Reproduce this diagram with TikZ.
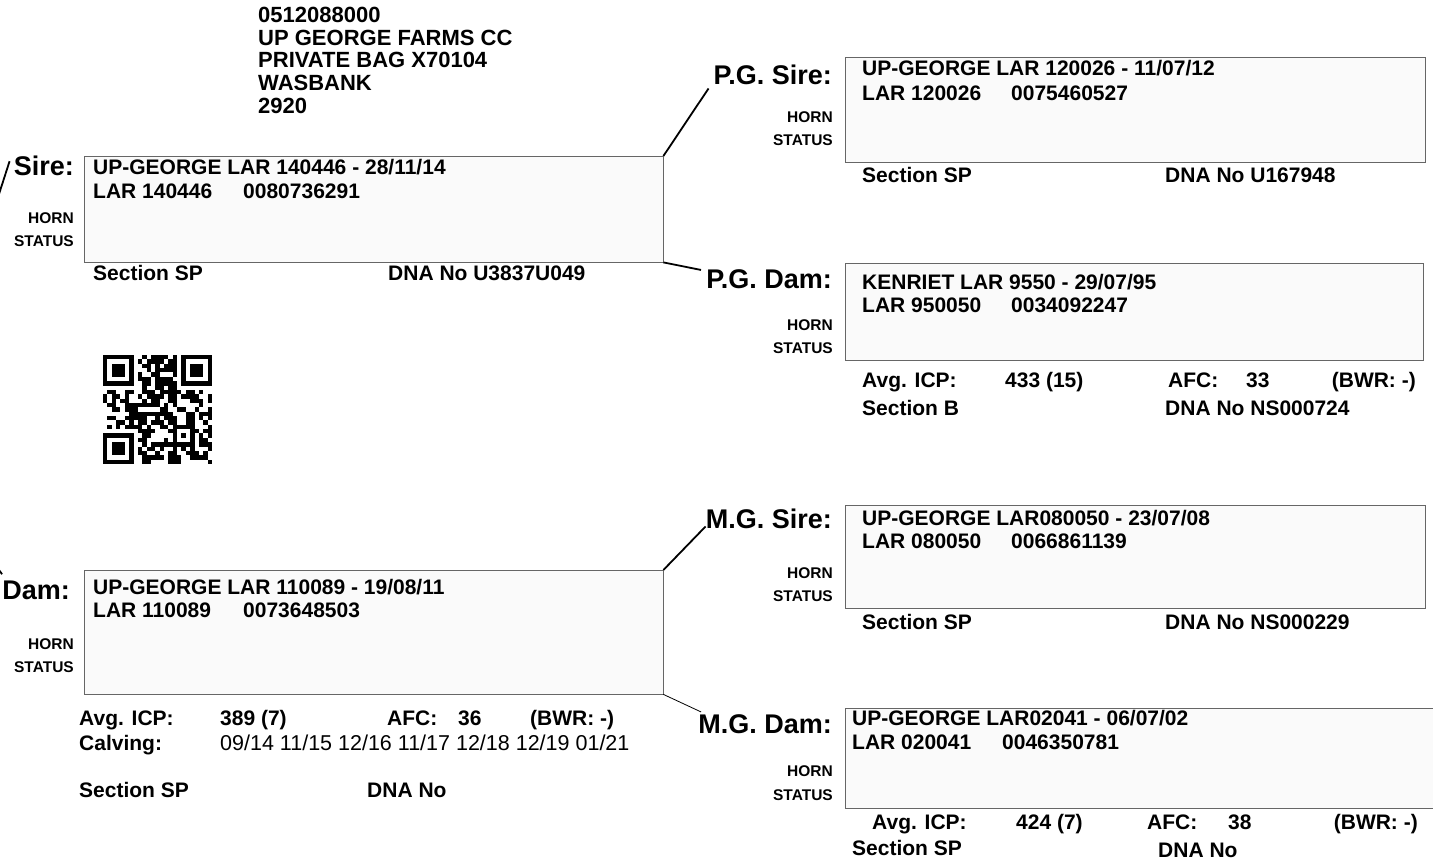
\documentclass[tikz,border=0pt]{standalone}
\usepackage{fontspec}
\setmainfont{Liberation Sans}
\usetikzlibrary{calc,positioning}

\begin{document}
\begin{tikzpicture}[x=1pt,y=-1pt,
card/.style={draw=black!60,fill=black!2,anchor=north west,inner sep=0pt},
tag/.style={font=\fontsize{27}{30}\selectfont\bfseries,anchor=base east,inner sep=0pt},
horn/.style={font=\fontsize{15.5}{18}\selectfont\bfseries,anchor=base east,inner sep=0pt},
info/.style={font=\fontsize{21}{24}\selectfont\bfseries,anchor=base west,inner sep=0pt},
addr/.style={font=\fontsize{22}{24}\selectfont\bfseries,anchor=base west,inner sep=0pt},
link/.style={draw=black,line width=1.8pt}]
\useasboundingbox (0,0) rectangle (1433,862);
\clip (0,0) rectangle (1433,862);

% address
\node [addr] (addr1) at (258,22) {0512088000};
\node [addr] (addr2) at (258,45) {UP GEORGE FARMS CC};
\node [addr] (addr3) at (258,67) {PRIVATE BAG X70104};
\node [addr] (addr4) at (258,90) {WASBANK};
\node [addr] (addr5) at (258,113) {2920};

% sire
\node [card,minimum width=579,minimum height=106] (sire) at (84,156) {};
\node [tag] (sirelbl) at (74,175) {Sire:};
\node [horn] (sirehorn) at (74,223) {HORN};
\node [horn] (sirestatus) at (74,246) {STATUS};
\node [info] (sirename) at (93,174) {UP-GEORGE LAR 140446 - 28/11/14};
\node [info] (sirereg) at (93,198) {LAR 140446};
\node [info] (sireid) at (243,198) {0080736291};
\node [info] (siresec) at (93,280) {Section SP};
\node [info] (siredna) at (388,280) {DNA No U3837U049};

% dam
\node [card,minimum width=579,minimum height=124] (dam) at (84,570) {};
\node [tag] (damlbl) at (70,599) {Dam:};
\node [horn] (damhorn) at (74,649) {HORN};
\node [horn] (damstatus) at (74,672) {STATUS};
\node [info] (damname) at (93,594) {UP-GEORGE LAR 110089 - 19/08/11};
\node [info] (damreg) at (93,617) {LAR 110089};
\node [info] (damid) at (243,617) {0073648503};
\node [info] (damavg) at (79,725) {Avg. ICP:};
\node [info] (damicp) at (220,725) {389 (7)};
\node [info] (damafc) at (387,725) {AFC:};
\node [info] (damafcv) at (458,725) {36};
\node [info] (dambwr) at (530,725) {(BWR: -)};
\node [info] (damcalv) at (79,750) {Calving:};
\node [info,font=\fontsize{21.5}{24}\selectfont] (damdates) at (220,750) {09/14 11/15 12/16 11/17 12/18 12/19 01/21};
\node [info] (damsec) at (79,797) {Section SP};
\node [info] (damdna) at (367,797) {DNA No};

% paternal grand sire
\node [card,minimum width=580,minimum height=105] (pgsire) at (845,57) {};
\node [tag] (pgsirelbl) at (832,84) {P.G. Sire:};
\node [horn] (pgsirehorn) at (833,122) {HORN};
\node [horn] (pgsirestatus) at (833,145) {STATUS};
\node [info] (pgsirename) at (862,75) {UP-GEORGE LAR 120026 - 11/07/12};
\node [info] (pgsirereg) at (862,100) {LAR 120026};
\node [info] (pgsireid) at (1011,100) {0075460527};
\node [info] (pgsiresec) at (862,182) {Section SP};
\node [info] (pgsiredna) at (1165,182) {DNA No U167948};

% paternal grand dam
\node [card,minimum width=578,minimum height=97] (pgdam) at (845,263) {};
\node [tag] (pgdamlbl) at (832,288) {P.G. Dam:};
\node [horn] (pgdamhorn) at (833,330) {HORN};
\node [horn] (pgdamstatus) at (833,353) {STATUS};
\node [info] (pgdamname) at (862,289) {KENRIET LAR 9550 - 29/07/95};
\node [info] (pgdamreg) at (862,312) {LAR 950050};
\node [info] (pgdamid) at (1011,312) {0034092247};
\node [info] (pgdamavg) at (862,387) {Avg. ICP:};
\node [info] (pgdamicp) at (1005,387) {433 (15)};
\node [info] (pgdamafc) at (1168,387) {AFC:};
\node [info] (pgdamafcv) at (1246,387) {33};
\node [info,anchor=base east] (pgdambwr) at (1416,387) {(BWR: -)};
\node [info] (pgdamsec) at (862,415) {Section B};
\node [info] (pgdamdna) at (1165,415) {DNA No NS000724};

% maternal grand sire
\node [card,minimum width=580,minimum height=103] (mgsire) at (845,505) {};
\node [tag] (mgsirelbl) at (832,528) {M.G. Sire:};
\node [horn] (mgsirehorn) at (833,578) {HORN};
\node [horn] (mgsirestatus) at (833,601) {STATUS};
\node [info] (mgsirename) at (862,525) {UP-GEORGE LAR080050 - 23/07/08};
\node [info] (mgsirereg) at (862,548) {LAR 080050};
\node [info] (mgsireid) at (1011,548) {0066861139};
\node [info] (mgsiresec) at (862,629) {Section SP};
\node [info] (mgsiredna) at (1165,629) {DNA No NS000229};

% maternal grand dam
\node [card,minimum width=600,minimum height=100] (mgdam) at (845,708) {};
\node [tag] (mgdamlbl) at (832,733) {M.G. Dam:};
\node [horn] (mgdamhorn) at (833,776) {HORN};
\node [horn] (mgdamstatus) at (833,800) {STATUS};
\node [info] (mgdamname) at (852,725) {UP-GEORGE LAR02041 - 06/07/02};
\node [info] (mgdamreg) at (852,749) {LAR 020041};
\node [info] (mgdamid) at (1002,749) {0046350781};
\node [info] (mgdamavg) at (872,829) {Avg. ICP:};
\node [info] (mgdamicp) at (1016,829) {424 (7)};
\node [info] (mgdamafc) at (1147,829) {AFC:};
\node [info] (mgdamafcv) at (1228,829) {38};
\node [info,anchor=base east] (mgdambwr) at (1418,829) {(BWR: -)};
\node [info] (mgdamsec) at (852,855) {Section SP};
\node [info] (mgdamdna) at (1158,857) {DNA No};

% links
\coordinate (gsire) at (-10,222);
\coordinate (gdam) at (-30,530);
\draw [link] (gsire) -- ($(sirelbl.north west)+(-4,6)$);
\draw [link] (gdam) -- ($(damlbl.north west)+(0,-6)$);
\draw [link] (sire.north east) -- ($(pgsirelbl.south west)+(-5,4)$);
\draw [link] (sire.south east) -- ($(pgdamlbl.north west)+(-5,1)$);
\draw [link] (dam.north east) -- ($(mgsirelbl.south west)+(0,-2)$);
\draw [draw=black,line width=0.8pt] (dam.south east) -- ($(mgdamlbl.north west)+(3,-2)$);

% qr code
\begin{scope}[shift={(103,355)},x=4.36pt,y=-4.36pt]
\foreach \a/\b in {0/0,18/0,0/18} {
  \fill (\a,\b) rectangle ++(7,7);
  \fill [white] (\a+1,\b+1) rectangle ++(5,5);
  \fill (\a+2,\b+2) rectangle ++(3,3);
}
\fill (16,16) rectangle ++(5,5);
\fill [white] (17,17) rectangle ++(3,3);
\fill (18,18) rectangle ++(1,1);
\pgfmathsetseed{4211}
\foreach \i in {0,...,24} {
  \foreach \j in {0,...,24} {
    \pgfmathtruncatemacro\qin{(\i<8 && \j<8) || (\i>16 && \j<8) || (\i<8 && \j>16) || (\i>15 && \i<21 && \j>15 && \j<21)}
    \pgfmathrandominteger\qv{0}{99}
    \ifnum\qin=0 \ifnum\qv<62 \fill (\i,\j) rectangle ++(1,1); \fi\fi
  }
}
\end{scope}
\end{tikzpicture}
\end{document}
